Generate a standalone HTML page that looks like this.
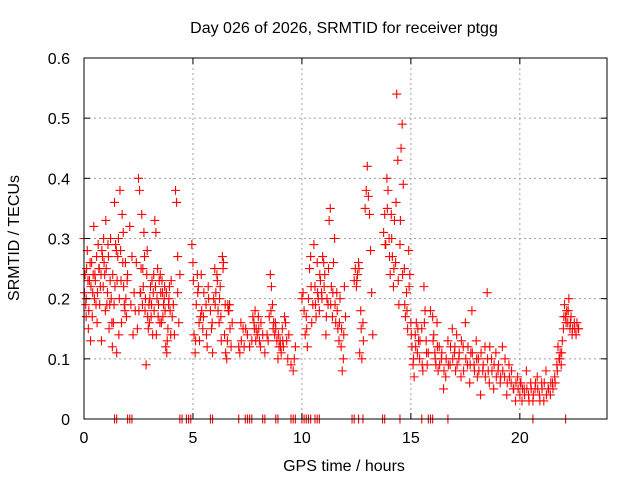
<!DOCTYPE html>
<html><head><meta charset="utf-8"><style>
html,body{margin:0;padding:0;background:#fff}
svg{display:block;font-family:"Liberation Sans",sans-serif}
</style></head><body>
<svg id="chart" width="640" height="480">
<text x="344" y="33" text-anchor="middle" font-size="16">Day 026 of 2026, SRMTID for receiver ptgg</text>
<text x="344" y="471" text-anchor="middle" font-size="16">GPS time / hours</text>
<text x="0" y="0" transform="translate(19,238) rotate(-90)" text-anchor="middle" font-size="16">SRMTID / TECUs</text>
<g id="grid"></g>
<g id="marks"></g>
<rect x="84" y="58" width="523" height="361" fill="none" stroke="#000" stroke-width="1"/>
<g id="axes"></g>
</svg>
<script>
const xTicks=[0,5,10,15,20];
const yTicks=[0,0.1,0.2,0.3,0.4,0.5,0.6];
const yTickLabels=["0","0.1","0.2","0.3","0.4","0.5","0.6"];
const times=[
0.0,0.05,0.1,0.1,0.15,0.2,0.25,0.3,0.35,0.4,
0.45,0.5,0.55,0.6,0.65,0.7,0.75,0.8,0.85,0.9,
0.95,1.0,1.05,1.1,1.15,1.2,1.25,1.3,1.35,1.4,
1.45,1.5,1.55,1.6,1.65,1.7,1.75,1.8,1.85,1.9,
1.95,2.0,2.1,2.15,2.2,2.25,2.3,2.35,2.4,2.45,
2.5,2.55,2.6,2.65,2.7,2.75,2.8,2.85,2.9,2.95,
3.0,3.05,3.1,3.15,3.2,3.25,3.3,3.35,3.4,3.45,
3.5,3.55,3.6,3.65,3.7,3.75,3.8,3.85,3.9,3.95,
4.0,4.05,4.1,4.15,4.2,4.25,4.3,4.3,4.35,4.4,
4.95,5.0,5.05,5.1,5.15,5.2,5.25,5.3,5.35,5.4,
5.45,5.5,5.6,5.65,5.7,5.8,5.85,5.9,5.95,6.0,
6.05,6.1,6.15,6.2,6.25,6.3,6.35,6.4,6.45,6.5,
6.55,6.6,6.65,6.7,6.75,6.8,7.1,7.15,7.2,7.3,
7.35,7.5,7.6,7.7,7.75,7.8,7.85,7.9,7.95,8.0,
8.05,8.1,8.2,8.3,8.4,8.45,8.5,8.55,8.6,8.65,
8.7,8.75,8.8,8.85,8.9,8.95,9.0,9.05,9.1,9.15,
9.2,9.25,9.3,9.35,9.4,9.5,9.6,9.65,9.7,10.0,
10.05,10.1,10.15,10.2,10.25,10.3,10.35,10.4,10.45,10.5,
10.55,10.6,10.65,10.7,10.75,10.8,10.85,10.9,10.95,11.0,
11.05,11.1,11.15,11.2,11.25,11.3,11.35,11.4,11.45,11.5,
11.55,11.6,11.65,11.7,11.75,11.8,11.85,11.9,11.95,12.0,
12.4,12.45,12.5,12.55,12.6,12.65,12.7,12.75,12.8,12.9,
12.95,13.0,13.05,13.1,13.15,13.2,13.25,13.75,13.8,13.85,
13.9,13.95,14.0,14.05,14.1,14.15,14.2,14.25,14.3,14.35,
14.4,14.45,14.5,14.55,14.6,14.65,14.7,14.75,14.8,14.85,
14.9,14.95,15.0,15.05,15.1,15.15,15.2,15.25,15.3,15.35,
15.4,15.5,15.55,15.6,15.65,15.7,15.75,15.8,15.9,16.0,
16.05,16.1,16.15,16.2,16.25,16.3,16.4,16.5,16.6,16.7,
16.8,16.9,17.0,17.05,17.1,17.2,17.3,17.4,17.5,17.6,
17.7,17.75,17.8,17.9,18.0,18.05,18.1,18.2,18.3,18.4,
18.5,18.55,18.6,18.7,18.8,18.9,19.0,19.1,19.2,19.3,
19.4,19.5,19.6,19.7,19.8,19.9,20.0,20.05,20.1,20.2,
20.3,20.4,20.5,20.6,20.7,20.8,20.9,21.0,21.1,21.2,
21.3,21.4,21.5,21.6,21.7,21.75,21.8,21.85,21.9,21.95,
22.0,22.05,22.1,22.15,22.2,22.25,22.3,22.35,22.4,22.5,
0.02,0.08,0.12,0.18,0.22,0.28,0.32,0.38,0.42,0.48,
0.52,0.58,0.62,0.68,0.72,0.78,0.82,0.88,0.92,0.98,
1.02,1.08,1.12,1.18,1.22,1.28,1.32,1.38,1.42,1.48,
1.52,1.58,1.62,1.68,1.72,1.78,1.82,1.88,1.92,1.98,
2.52,2.58,2.62,2.68,2.72,2.78,2.82,2.88,2.92,2.98,
3.02,3.08,3.12,3.18,3.22,3.28,3.32,3.38,3.42,3.48,
3.52,3.58,3.62,3.68,3.72,3.78,3.82,3.88,3.92,3.98,
5.02,5.12,5.22,5.28,5.38,5.48,5.62,5.72,5.88,6.02,
6.12,6.22,6.28,6.38,6.48,6.58,6.62,6.68,7.22,7.42,
7.82,7.88,8.02,8.12,8.58,8.68,8.78,8.92,9.02,9.12,
10.22,10.42,10.62,10.72,10.82,10.92,11.02,11.12,11.22,11.32,
11.42,11.52,11.62,11.72,11.82,11.92,12.52,12.62,12.72,12.82,
13.82,13.92,14.02,14.12,14.22,14.32,14.42,14.52,14.62,14.72,
14.82,14.92,15.02,15.12,15.22,15.32,15.42,15.52,15.62,15.72,
16.02,16.12,16.22,16.32,16.42,16.52,16.62,16.72,16.82,16.92,
17.02,17.12,17.22,17.32,17.42,17.52,17.62,17.72,17.82,17.92,
18.02,18.12,18.22,18.32,18.42,18.52,18.62,18.72,18.82,18.92,
19.02,19.12,19.22,19.32,19.42,19.52,19.62,19.72,19.82,19.92,
20.02,20.12,20.22,20.32,20.42,20.52,20.62,20.72,20.82,20.92,
21.02,21.12,21.22,21.32,21.42,21.52,21.62,21.72,21.82,21.92,
22.02,22.12,22.22,22.32,22.42,22.52,22.58,22.62,22.68,22.7
];
const values=[
0.30,0.24,0.20,0.17,0.28,0.15,0.23,0.13,0.26,0.21,
0.32,0.24,0.19,0.16,0.29,0.25,0.22,0.13,0.27,0.30,
0.24,0.33,0.19,0.29,0.15,0.23,0.20,0.12,0.16,0.36,
0.29,0.11,0.27,0.14,0.38,0.23,0.34,0.31,0.19,0.26,
0.17,0.24,0.32,0.19,0.27,0.14,0.21,0.18,0.26,0.15,
0.40,0.38,0.21,0.34,0.25,0.31,0.18,0.09,0.28,0.15,
0.16,0.22,0.19,0.14,0.24,0.33,0.31,0.20,0.17,0.23,
0.24,0.16,0.21,0.19,0.22,0.12,0.11,0.15,0.20,0.18,
0.23,0.17,0.19,0.14,0.38,0.36,0.27,0.21,0.16,0.24,
0.29,0.26,0.14,0.11,0.19,0.24,0.22,0.13,0.17,0.18,
0.15,0.21,0.19,0.12,0.22,0.18,0.15,0.11,0.20,0.25,
0.21,0.24,0.18,0.16,0.22,0.13,0.27,0.26,0.14,0.11,
0.10,0.19,0.18,0.15,0.12,0.16,0.12,0.11,0.16,0.15,
0.12,0.14,0.12,0.13,0.17,0.16,0.18,0.15,0.14,0.17,
0.13,0.12,0.14,0.11,0.14,0.13,0.17,0.24,0.22,0.19,
0.16,0.14,0.15,0.13,0.10,0.12,0.13,0.11,0.15,0.12,
0.17,0.16,0.13,0.10,0.14,0.09,0.08,0.10,0.12,0.20,
0.21,0.18,0.14,0.17,0.12,0.20,0.25,0.27,0.16,0.19,
0.29,0.22,0.17,0.26,0.20,0.18,0.23,0.21,0.27,0.26,
0.24,0.14,0.20,0.19,0.33,0.35,0.22,0.17,0.26,0.30,
0.16,0.21,0.15,0.13,0.20,0.12,0.08,0.10,0.22,0.17,
0.23,0.25,0.22,0.24,0.26,0.11,0.18,0.10,0.16,0.35,
0.38,0.42,0.37,0.34,0.28,0.21,0.14,0.31,0.34,0.29,
0.40,0.38,0.30,0.24,0.34,0.27,0.22,0.33,0.26,0.54,
0.43,0.19,0.29,0.45,0.49,0.39,0.25,0.17,0.21,0.15,
0.28,0.24,0.16,0.12,0.09,0.07,0.14,0.16,0.11,0.13,
0.10,0.15,0.08,0.22,0.18,0.13,0.09,0.11,0.18,0.17,
0.14,0.11,0.09,0.16,0.08,0.12,0.10,0.05,0.07,0.13,
0.09,0.15,0.11,0.08,0.14,0.10,0.07,0.12,0.16,0.09,
0.06,0.11,0.18,0.09,0.13,0.07,0.10,0.04,0.08,0.12,
0.21,0.08,0.06,0.10,0.05,0.11,0.08,0.06,0.12,0.07,
0.04,0.09,0.06,0.05,0.03,0.07,0.04,0.06,0.03,0.05,
0.08,0.04,0.06,0.03,0.05,0.07,0.04,0.06,0.03,0.08,
0.05,0.04,0.06,0.07,0.09,0.12,0.10,0.11,0.09,0.13,
0.15,0.19,0.17,0.18,0.16,0.20,0.15,0.17,0.14,0.16,
0.21,0.19,0.25,0.23,0.18,0.26,0.22,0.17,0.24,0.20,
0.23,0.27,0.21,0.25,0.19,0.24,0.28,0.22,0.26,0.18,
0.25,0.21,0.27,0.19,0.30,0.16,0.24,0.19,0.22,0.28,
0.23,0.30,0.20,0.28,0.16,0.26,0.22,0.18,0.20,0.23,
0.18,0.21,0.25,0.19,0.22,0.27,0.20,0.24,0.17,0.19,
0.20,0.17,0.23,0.21,0.18,0.22,0.14,0.25,0.19,0.16,
0.21,0.23,0.17,0.20,0.18,0.21,0.13,0.19,0.22,0.14,
0.23,0.13,0.21,0.16,0.24,0.17,0.14,0.20,0.16,0.19,
0.23,0.20,0.17,0.25,0.19,0.13,0.18,0.19,0.13,0.15,
0.15,0.13,0.15,0.16,0.18,0.15,0.16,0.14,0.12,0.13,
0.15,0.22,0.19,0.21,0.24,0.20,0.22,0.17,0.25,0.19,
0.21,0.19,0.18,0.16,0.15,0.14,0.23,0.25,0.15,0.13,
0.29,0.35,0.27,0.30,0.25,0.36,0.23,0.33,0.24,0.19,
0.18,0.22,0.14,0.10,0.12,0.15,0.13,0.09,0.16,0.11,
0.13,0.10,0.12,0.09,0.11,0.08,0.10,0.09,0.12,0.10,
0.12,0.09,0.11,0.13,0.08,0.10,0.12,0.09,0.11,0.08,
0.10,0.08,0.11,0.09,0.07,0.10,0.12,0.08,0.09,0.07,
0.09,0.07,0.08,0.10,0.06,0.07,0.08,0.05,0.06,0.05,
0.06,0.05,0.04,0.05,0.03,0.05,0.04,0.06,0.05,0.03,
0.05,0.06,0.04,0.05,0.06,0.05,0.06,0.08,0.10,0.11,
0.17,0.16,0.18,0.16,0.15,0.15,0.14,0.16,0.15,0.15
];
const zeroTimes=[1.4,1.5,2.0,2.1,2.2,4.4,4.5,4.7,4.8,4.9,5.8,5.9,7.1,7.4,7.5,7.6,7.7,8.2,8.3,8.8,8.9,9.5,9.6,9.7,10.0,10.1,10.2,10.3,10.4,10.6,10.7,10.8,12.3,12.4,12.6,12.8,13.7,13.8,14.5,15.5,15.8,15.9,16.0,16.7,20.6,22.1];

const X0=84,X1=607,Y0=419,Y1=58,XMAX=24,YMAX=0.6;
function xs(t){return X0+(X1-X0)*t/XMAX;}
function ys(v){return Y0-(Y0-Y1)*v/YMAX;}
const NS="http://www.w3.org/2000/svg";
function mk(tag,attrs,parent){const e=document.createElementNS(NS,tag);for(const k in attrs)e.setAttribute(k,attrs[k]);parent.appendChild(e);return e;}
const grid=document.getElementById('grid'),axes=document.getElementById('axes'),marks=document.getElementById('marks');
xTicks.forEach(t=>{
  const x=xs(t);
  if(t>0){
    const g=mk('line',{x1:x,y1:Y1,x2:x,y2:Y0,stroke:'#a0a0a0','stroke-dasharray':'2,3'},grid);
    
    
  }
  mk('line',{x1:x,y1:Y0,x2:x,y2:Y0-6,stroke:'#000'},axes);
  mk('line',{x1:x,y1:Y1,x2:x,y2:Y1+6,stroke:'#000'},axes);
  const l=mk('text',{x:x,y:Y0+24,'text-anchor':'middle','font-size':'16'},axes);
  l.textContent=String(t);
  
  
});
yTicks.forEach((v,i)=>{
  const y=ys(v);
  if(v>0&&v<YMAX){
    const g=mk('line',{x1:X0,y1:y,x2:X1,y2:y,stroke:'#a0a0a0','stroke-dasharray':'2,3'},grid);
    
    
  }
  mk('line',{x1:X0,y1:y,x2:X0+6,y2:y,stroke:'#000'},axes);
  mk('line',{x1:X1,y1:y,x2:X1-6,y2:y,stroke:'#000'},axes);
  const l=mk('text',{x:X0-14,y:y+6,'text-anchor':'end','font-size':'16'},axes);
  l.textContent=yTickLabels[i];
  
  
});
function plus(t,v){
  const x=xs(t),y=ys(v);
  const p=mk('path',{d:'M'+(x-4.5)+' '+y+'H'+(x+4.5)+'M'+x+' '+(y-4.5)+'V'+(y+4.5),stroke:'#ff0000','stroke-width':'1.1',fill:'none'},marks);
  
  
}
for(let i=0;i<times.length&&i<values.length;i++){plus(times[i],values[i]);}
zeroTimes.forEach(t=>{plus(t,0);});
</script>
</body></html>
